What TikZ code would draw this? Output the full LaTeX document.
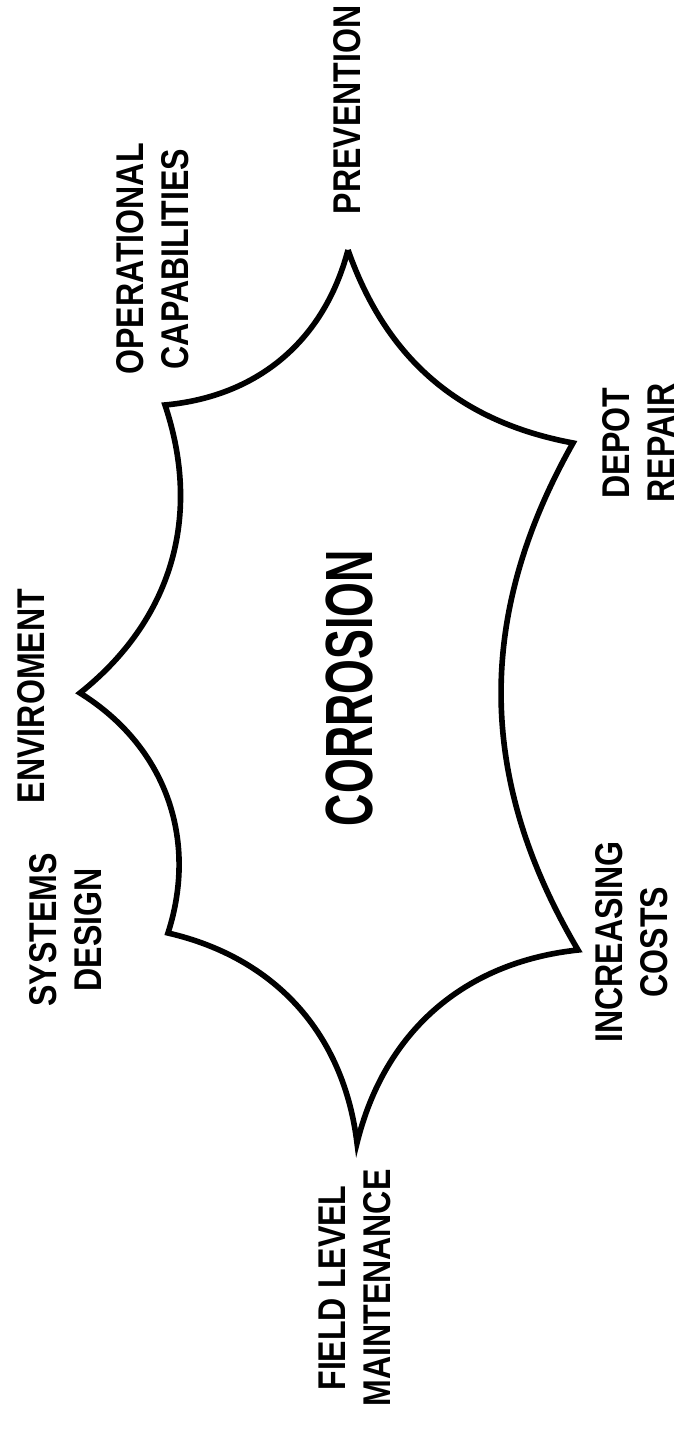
\documentclass[tikz,border=0pt]{standalone}
\usepackage{fontspec}
\setmainfont{Liberation Sans}[FakeStretch=0.83]
\newfontfamily\corrfont{Liberation Sans}[FakeStretch=0.67]
\usetikzlibrary{positioning}

\begin{document}
\begin{tikzpicture}[
		x=0.01cm, y=-0.01cm,
		lbl/.style = {rotate=90, align=center, font=\fontsize{11}{12.8}\selectfont\bfseries, inner sep=0pt},
		edge/.style = {line width=1.6pt, line join=miter}
		]
		\useasboundingbox (0,0) rectangle (694,1431);
		
		%Cusps
		\coordinate (pv) at (348,250);
		\coordinate (dr) at (573,443);
		\coordinate (ic) at (578,950);
		\coordinate (fm) at (357,1143);
		\coordinate (sd) at (168,933);
		\coordinate (en) at (80,693);
		\coordinate (oc) at (165,405);
		
		%Outline
		\draw[edge]	(pv)	to[bend right=30]	(dr)
					to[bend right=30]	(ic)
					to[bend right=35]	(fm)
					to[bend right=35]	(sd)
					to[bend right=38]	(en)
					to[bend right=35]	(oc)
					to[bend right=35]	(pv);
		
		%Labels
		\node[rotate=90, inner sep=0pt, font=\corrfont\fontsize{19}{22}\selectfont\bfseries]	(corr)	at	(349,688)	{CORROSION};
		\node[lbl]	(prev)	at	(347,110)	{PREVENTION};
		\node[lbl]	(opcap)	at	(153,259)	{OPERATIONAL\\CAPABILITIES};
		\node[lbl]	(depot)	at	(638,443)	{DEPOT\\REPAIR};
		\node[lbl]	(envi)	at	(31,696)	{ENVIROMENT};
		\node[lbl]	(cost)	at	(632,942)	{INCREASING\\COSTS};
		\node[lbl]	(sysd)	at	(66,930)	{SYSTEMS\\DESIGN};
		\node[lbl]	(field)	at	(355,1288)	{FIELD LEVEL\\MAINTENANCE};
\end{tikzpicture}
\end{document}
